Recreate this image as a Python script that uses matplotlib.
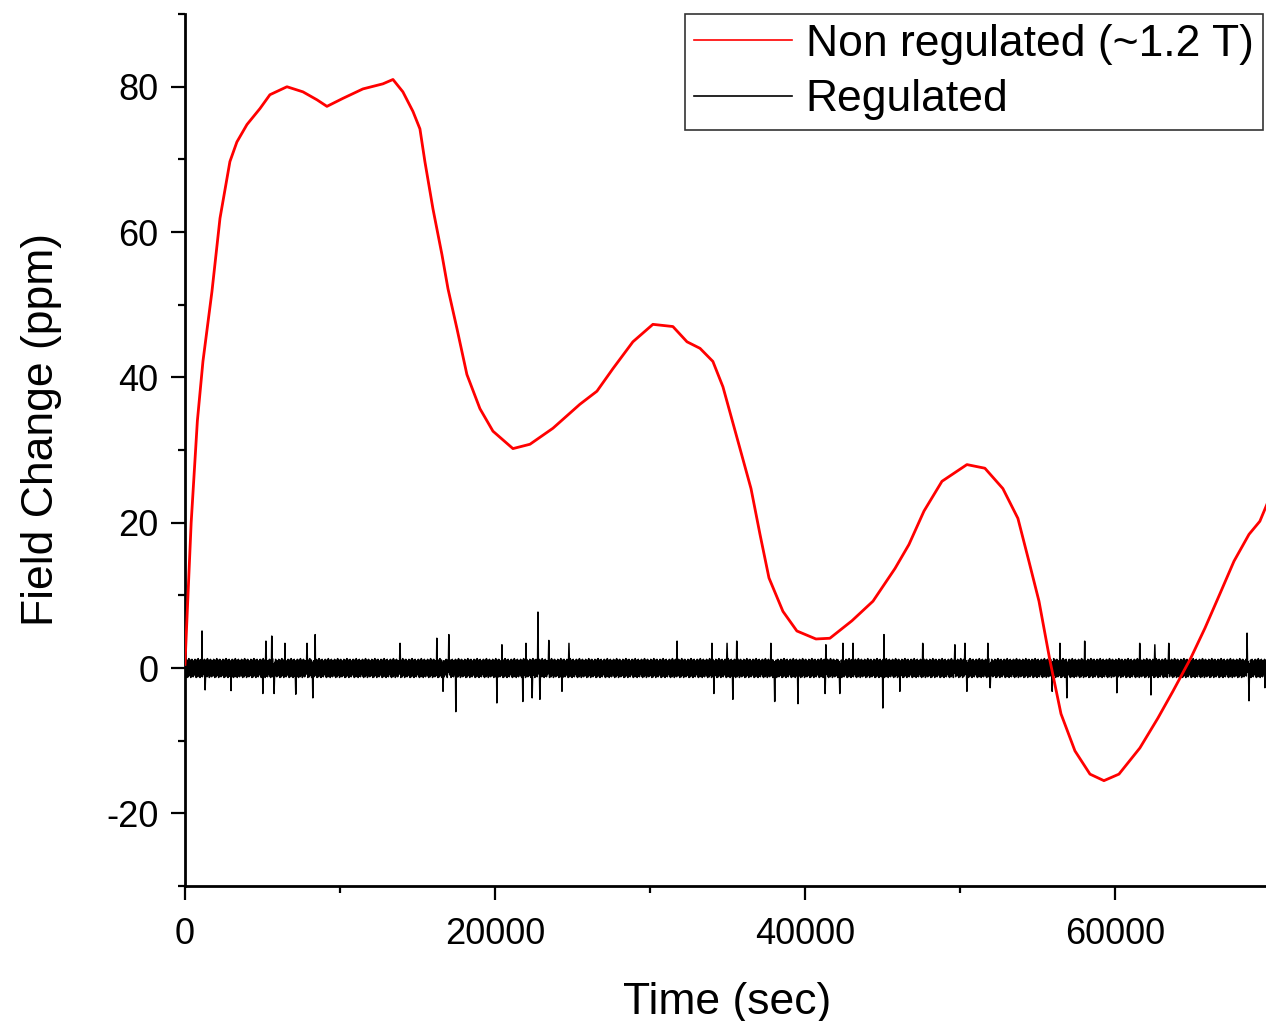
import numpy as np
import matplotlib
matplotlib.use("Agg")
import matplotlib.pyplot as plt
from matplotlib.ticker import MultipleLocator

plt.rcParams['font.family'] = ['Liberation Sans', 'DejaVu Sans']
plt.rcParams['axes.unicode_minus'] = False

# non regulated field drift
red_t = [0, 400, 800, 1160, 1740, 2260, 2900, 3350, 4000, 4840, 5480, 6580, 7610, 8520,
         9160, 10190, 11480, 12770, 13420, 14060, 14710, 15160, 15480, 16000, 16580,
         16970, 17550, 18190, 19030, 19870, 21160, 22260, 23740, 25480, 26580, 27610,
         28900, 30190, 31480, 32390, 33230, 34060, 34710, 35810, 36520, 37100, 37680,
         38580, 39480, 40710, 41610, 43030, 44390, 45810, 46710, 47680, 48840, 50450,
         51610, 52770, 53740, 54450, 55100, 55810, 56520, 57420, 58390, 59290, 60260,
         61610, 62770, 63740, 64900, 65810, 66770, 67680, 68650, 69350, 69800]
red_v = [0.5, 20, 34, 42.2, 51.8, 61.9, 69.7, 72.4, 74.8, 77, 78.9, 80, 79.3, 78.2,
         77.3, 78.4, 79.7, 80.4, 81, 79.3, 76.6, 74.2, 69.7, 63.2, 56.9,
         52.2, 46.7, 40.4, 35.7, 32.6, 30.2, 30.8, 33.0, 36.3, 38.1, 41.2,
         44.9, 47.3, 47.0, 44.9, 44.0, 42.2, 38.7, 30.2, 24.7, 18.4, 12.4,
         7.8, 5.1, 4.0, 4.1, 6.5, 9.2, 13.7, 17.0, 21.6, 25.7, 28.0,
         27.5, 24.7, 20.6, 14.7, 9.2, 1.0, -6.3, -11.4, -14.6, -15.5, -14.6,
         -11.0, -6.9, -3.2, 1.4, 5.5, 10.2, 14.7, 18.4, 20.2, 22.5]

# regulated trace: sample spacing, small-noise band and the visible spikes
reg_dt = 25
reg_band = [1.0, -0.8, 1.2, -1.1, 0.7, -1.3, 1.1, -0.6, 0.9, -1.2, 1.3, -0.9,
            0.6, -1.0, 1.1, -1.3, 0.8, -0.7, 1.2, -1.1, 1.0, -1.2, 0.7, -0.9]
spike_t = [1100, 5230, 5610, 6450, 7870, 8390, 13870, 16260, 17030, 20450, 22000,
           22770, 23480, 24770, 31740, 34000, 34970, 35610, 37810, 41350, 42450,
           43100, 45100, 47610, 49680, 50320, 51810, 56450, 58060, 61610, 62580,
           63480, 68520,
           1290, 2970, 5030, 5740, 7160, 8260, 16650, 17480, 20130, 21810, 22390,
           22900, 24320, 34130, 35350, 38060, 39550, 41290, 42260, 45030, 46130,
           50450, 51940, 55940, 56900, 60130, 62320, 68650, 69680]
spike_v = [5.1, 3.7, 4.4, 3.4, 3.4, 4.6, 3.4, 4.1, 4.6, 3.2, 3.4,
           7.7, 3.8, 3.4, 3.7, 3.4, 3.4, 3.7, 3.4, 3.2, 3.4,
           3.4, 4.6, 3.4, 3.2, 3.4, 3.4, 3.4, 3.7, 3.4, 3.2,
           3.4, 4.8,
           -3.0, -3.1, -3.5, -3.5, -3.6, -4.1, -3.2, -6.0, -4.8, -4.6, -4.1,
           -4.3, -3.2, -3.5, -4.3, -4.6, -4.9, -3.5, -3.5, -5.5, -3.2,
           -3.2, -2.7, -3.2, -4.1, -3.4, -3.7, -4.5, -2.7]

reg_t = np.arange(0, 70000 + reg_dt, reg_dt)
reg_v = np.resize(np.array(reg_band), reg_t.size)
for t, v in zip(spike_t, spike_v):
    reg_v[int(round(t / reg_dt))] = v

fig = plt.figure(figsize=(12.66, 10.21), dpi=100)
ax = fig.add_axes([0.1461, 0.1322, 0.857, 0.854])

ax.plot(reg_t, reg_v, color='black', lw=1.1, label='Regulated', zorder=2)
ax.plot(red_t, red_v, color='red', lw=2.0, label='Non regulated (~1.2 T)', zorder=3)

ax.set_xlim(0, 70000)
ax.set_ylim(-30, 90)
ax.xaxis.set_major_locator(MultipleLocator(20000))
ax.xaxis.set_minor_locator(MultipleLocator(10000))
ax.yaxis.set_major_locator(MultipleLocator(20))
ax.yaxis.set_minor_locator(MultipleLocator(10))

for s in ['top', 'right']:
    ax.spines[s].set_visible(False)
for s in ['left', 'bottom']:
    ax.spines[s].set_linewidth(2)

ax.tick_params(which='major', direction='out', length=10, width=1.6, labelsize=26)
ax.tick_params(axis='x', which='major', pad=12)
ax.tick_params(axis='y', which='major', pad=9)
ax.tick_params(which='minor', direction='out', length=5, width=1.6)

ax.set_xlabel('Time (sec)', fontsize=32, labelpad=22)
ax.set_ylabel('Field Change (ppm)', fontsize=32, labelpad=26)
ax.yaxis.set_label_coords(-0.113, 0.524)

handles, labels = ax.get_legend_handles_labels()
leg = ax.legend(handles[::-1], labels[::-1], loc='upper right', bbox_to_anchor=(1.002, 1.01),
                fontsize=32, frameon=True, fancybox=False, shadow=False,
                handlelength=2.2, handletextpad=0.3, borderpad=0.22, labelspacing=0.32,
                borderaxespad=0.2)
leg.get_frame().set_edgecolor('black')
leg.get_frame().set_linewidth(1.2)
for line in leg.get_lines():
    line.set_linewidth(1.2)

fig.savefig('out.png', dpi=100)
